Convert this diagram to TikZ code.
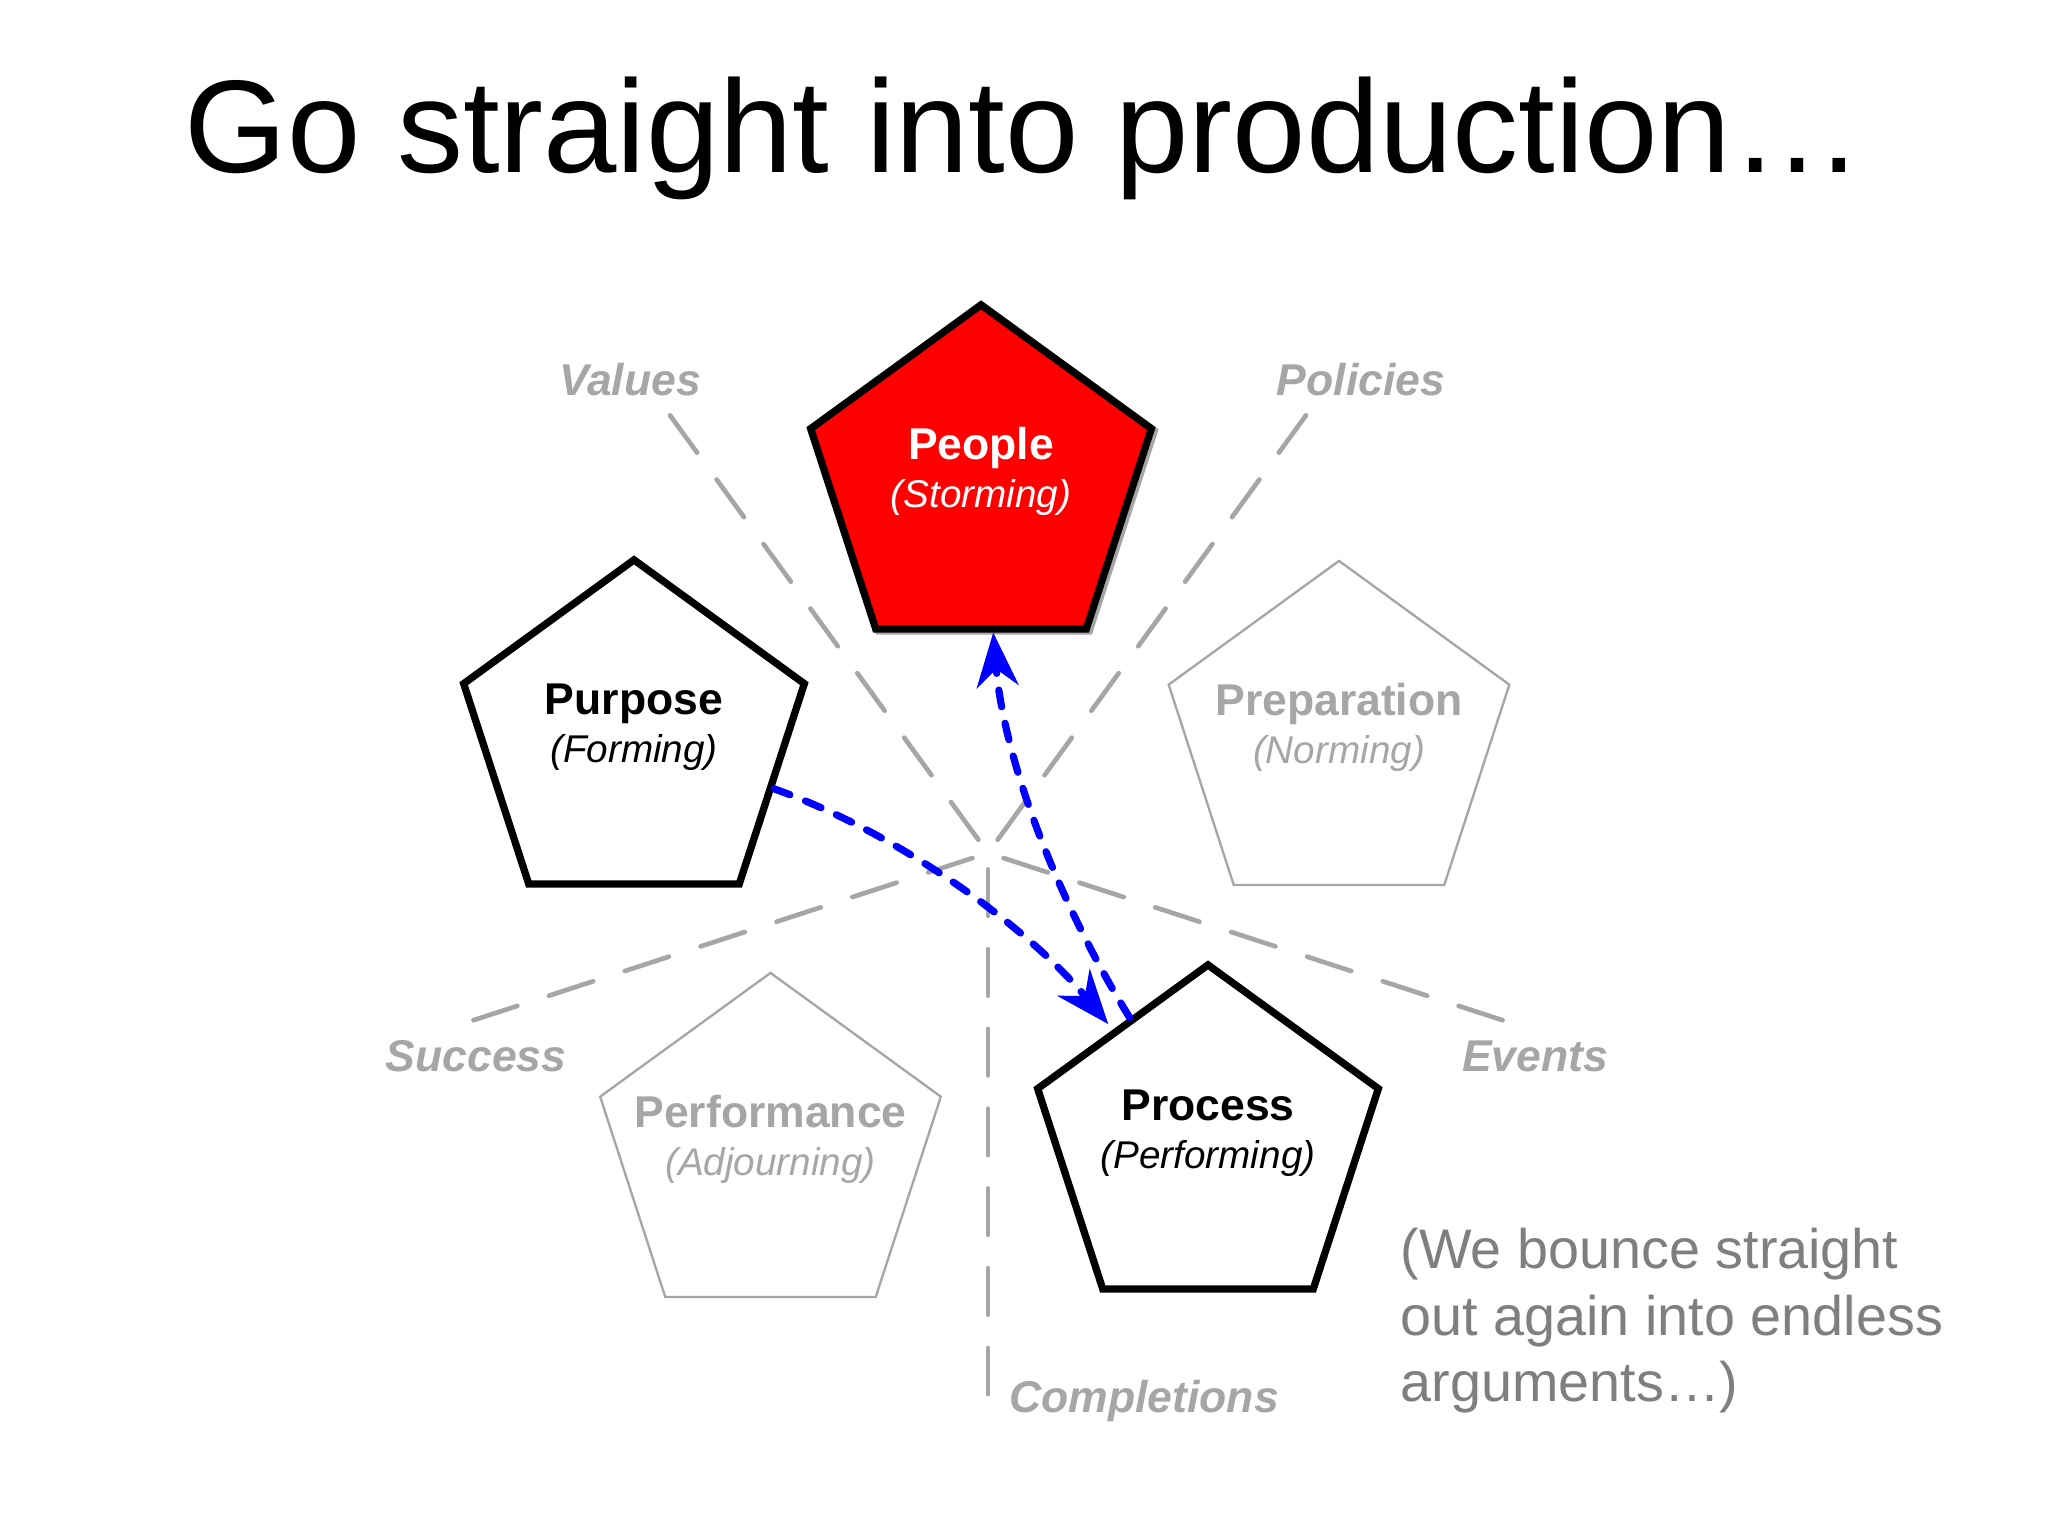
\documentclass[tikz,border=0pt]{standalone}
\usepackage{fontspec}
\setmainfont{Liberation Sans}
\usetikzlibrary{shapes.geometric,arrows.meta}
\definecolor{lgray}{HTML}{A6A6A6}
\definecolor{notegray}{HTML}{7F7F7F}
\definecolor{pblue}{HTML}{0000FF}
\definecolor{pred}{HTML}{FF0000}
\begin{document}
\begin{tikzpicture}[x=0.01cm,y=-0.01cm,
 pent/.style={regular polygon, regular polygon sides=5, minimum size=3.58cm, inner sep=0pt},
 pentblack/.style={pent, draw=black, line width=2.08pt, fill=white},
 pentred/.style={pent, draw=black, line width=2.08pt, fill=pred},
 pentshadow/.style={pent, draw=lgray, line width=2.08pt},
 pentgray/.style={pent, draw=lgray, line width=0.66pt},
 nametext/.style={anchor=base, inner sep=0pt, font=\fontsize{12.66pt}{15pt}\selectfont\bfseries},
 stagetext/.style={anchor=base, inner sep=0pt, font=\fontsize{11pt}{13pt}\selectfont\itshape},
 spokelabel/.style={anchor=base, inner sep=0pt, text=lgray, font=\fontsize{12.66pt}{15pt}\selectfont\bfseries\itshape},
 spoke/.style={draw=lgray, line width=1.33pt, line cap=round, dash pattern=on 13.23pt off 9.45pt},
 flow/.style={draw=pblue, line width=2.05pt, line cap=round, dash pattern=on 4.8pt off 4.8pt, -{Stealth[length=15.4pt,width=11.9pt,inset=5pt]}},
 notetext/.style={anchor=base west, inner sep=0pt, text=notegray, font=\fontsize{15.85pt}{19pt}\selectfont},
 titletext/.style={anchor=base, inner sep=0pt, font=\fontsize{37.5pt}{45pt}\selectfont}
]
\fill[white] (0,0) rectangle (2048,1536);
\useasboundingbox (0,0) rectangle (2048,1536);

% title
\node[titletext] (title) at (1024,172) {Go straight into production…};

% spokes
\coordinate (vA) at (978.39,839.77);  \coordinate (vB) at (669.98,415.28);
\coordinate (pA) at (997.61,839.77);  \coordinate (pB) at (1306.02,415.28);
\coordinate (sA) at (972.45,858.05);  \coordinate (sB) at (473.43,1020.2);
\coordinate (eA) at (1003.55,858.05); \coordinate (eB) at (1502.57,1020.2);
\coordinate (cA) at (988,869.35);     \coordinate (cB) at (988,1394.05);
\draw[spoke] (vA) -- (vB);
\draw[spoke] (pA) -- (pB);
\draw[spoke] (sA) -- (sB);
\draw[spoke] (eA) -- (eB);
\draw[spoke] (cA) -- (cB);

\node[spokelabel] (lvalues) at (630,395) {Values};
\node[spokelabel] (lpolicies) at (1361,395) {Policies};
\node[spokelabel] (lsuccess) at (476,1071.5) {Success};
\node[spokelabel] (levents) at (1535,1071.5) {Events};
\node[spokelabel] (lcompl) at (1144,1412.7) {Completions};

% pentagons
\node[pentgray] (preparation) at (1339,740) {};
\node[pentgray] (performance) at (770.5,1152) {};
\node[pentblack] (purpose) at (634,739) {};
\node[pentblack] (process) at (1208,1144) {};
\node[pentshadow] (peopleshadow) at (984,486) {};
\node[pentred] (people) at (981,484) {};

% pentagon texts
\node[nametext, text=white] (tpeople) at (981,459) {People};
\node[stagetext, text=white] (speople) at (981,507) {(Storming)};
\node[nametext] (tpurpose) at (634,714) {Purpose};
\node[stagetext] (spurpose) at (634,762) {(Forming)};
\node[nametext, text=lgray] (tprep) at (1339,715) {Preparation};
\node[stagetext, text=lgray] (sprep) at (1339,763) {(Norming)};
\node[nametext, text=lgray] (tperf) at (770.5,1127) {Performance};
\node[stagetext, text=lgray] (sperf) at (770.5,1175) {(Adjourning)};
\node[nametext] (tprocess) at (1208,1120) {Process};
\node[stagetext] (sprocess) at (1208,1168) {(Performing)};

% flows
\draw[flow, shorten >=2pt] (purpose) .. controls (896.8,832.5) and (1025.5,924.6) .. (process);
\draw[flow] (process) .. controls (1059,903.6) and (1003.8,760.8) .. (people);

% note
\node[notetext] (note1) at (1400,1268.3) {(We bounce straight};
\node[notetext] (note2) at (1400,1335) {out again into endless};
\node[notetext] (note3) at (1400,1401.7) {arguments…)};
\end{tikzpicture}
\end{document}
